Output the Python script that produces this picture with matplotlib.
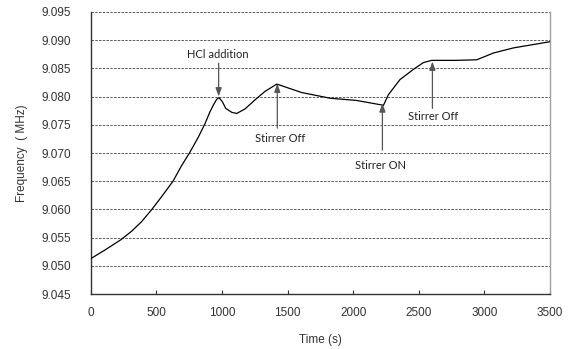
import matplotlib
matplotlib.use("Agg")
import matplotlib.pyplot as plt

# frequency trace
time_s = [0, 107, 233, 309, 386, 462, 538, 627, 691, 755, 820, 871, 909, 935,
          960, 978, 1003, 1029, 1075, 1113, 1176, 1252, 1328, 1418, 1608,
          1824, 2027, 2218, 2230, 2268, 2357, 2459, 2535, 2599, 2790, 2942,
          3069, 3221, 3348, 3500]
freq_mhz = [9.0513, 9.0528, 9.0547, 9.0561, 9.0578, 9.0599, 9.0622, 9.0650,
            9.0677, 9.0701, 9.0728, 9.0752, 9.0773, 9.0785, 9.0795, 9.0798,
            9.0791, 9.0779, 9.0772, 9.0770, 9.0778, 9.0794, 9.0809, 9.0822,
            9.0807, 9.0797, 9.0793, 9.0785, 9.0784, 9.0803, 9.0830, 9.0848,
            9.0860, 9.0864, 9.0864, 9.0865, 9.0877, 9.0886, 9.0891, 9.0897]

# events: label, arrow tip (t, f), arrow tail (t, f), label position (t, f)
event_labels = ["HCl addition", "Stirrer Off", "Stirrer ON", "Stirrer Off"]
event_tip = [(975, 9.0800), (1422, 9.0823), (2223, 9.0788), (2604, 9.0862)]
event_tail = [(975, 9.0859), (1422, 9.0744), (2223, 9.0705), (2604, 9.0779)]
event_text = [(965, 9.0875), (1443, 9.0725), (2205, 9.0677), (2611, 9.0764)]

plt.rcParams["font.family"] = ["Liberation Sans", "DejaVu Sans"]

fig = plt.figure(figsize=(5.69, 3.49), dpi=100)
ax = fig.add_axes([0.1594, 0.1569, 0.8072, 0.8094])

ax.plot(time_s, freq_mhz, color="black", lw=0.9, zorder=3)

for label, tip, tail, txt in zip(event_labels, event_tip, event_tail, event_text):
    ax.annotate("", xy=tip, xytext=tail,
                arrowprops=dict(arrowstyle="-|>,head_length=0.5,head_width=0.18",
                                color="#555555", lw=0.9, shrinkA=0, shrinkB=0),
                zorder=4)
    ax.text(txt[0], txt[1], label, ha="center", va="center", fontsize=8,
            family=["Lato", "DejaVu Sans"], color="#222222")

ax.set_xlim(0, 3500)
ax.set_ylim(9.045, 9.095)
ax.set_xticks(range(0, 3501, 500))
yt = [9.045 + 0.005 * i for i in range(11)]
ax.set_yticks(yt)
ax.set_yticklabels([f"{v:.3f}" for v in yt])

ax.grid(axis="y", linestyle=(0, (3, 1.5)), color="#444444", lw=0.6)
ax.set_axisbelow(True)

ax.tick_params(axis="x", direction="in", length=3, width=0.8, pad=9,
               labelsize=8.5, colors="#333333")
ax.tick_params(axis="y", length=0, pad=14, labelsize=8.5, colors="#333333")

ax.spines["top"].set_visible(False)
ax.spines["right"].set_color("#a0a0a0")
ax.spines["right"].set_linewidth(1.0)
for s in ("left", "bottom"):
    ax.spines[s].set_color("#333333")
    ax.spines[s].set_linewidth(1.0)

ax.set_xlabel("Time (s)", fontsize=8.5, color="#333333", labelpad=11)
ax.set_ylabel("Frequency  ( MHz)", fontsize=8.5, color="#333333", labelpad=10)

fig.savefig("out.png", dpi=100)
